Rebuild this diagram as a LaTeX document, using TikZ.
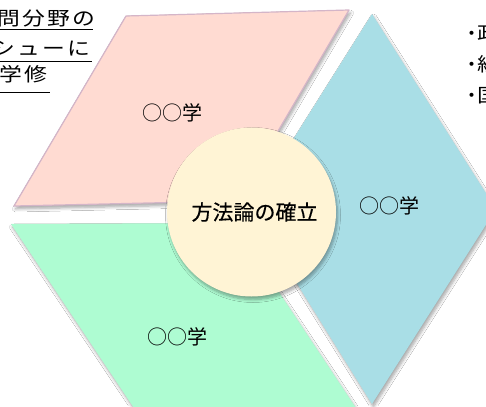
\documentclass[tikz,border=0pt]{standalone}
\usepackage{fontspec}
\newfontfamily\jp{Noto Sans CJK JP}
\newfontfamily\jpb[FakeBold=0.4]{Noto Sans CJK JP}
\usetikzlibrary{shadows.blur}
\definecolor{pinkf}{RGB}{255,219,210}
\definecolor{pinkd}{RGB}{212,181,200}
\definecolor{bluef}{RGB}{169,222,230}
\definecolor{greenf}{RGB}{174,252,210}
\definecolor{creamf}{RGB}{255,244,213}
\begin{document}
\begin{tikzpicture}[x=1pt,y=-1pt,
  shad/.style={blur shadow={shadow xshift=1.5pt,shadow yshift=-3pt,shadow blur steps=6,shadow blur radius=3pt,shadow opacity=35}},
  lbl/.style={font=\jp\fontsize{20}{20}\selectfont, inner sep=0pt, text=black},
  side/.style={font=\jp\fontsize{19}{19}\selectfont, inner sep=0pt, text=black},
  uline/.style={line width=1.3pt, black}]
\useasboundingbox (0,0) rectangle (486,406);
\fill[white] (0,0) rectangle (486,406);
\clip (0,0) rectangle (486,406);
% pink
\filldraw[fill=pinkf, draw=pinkd, line width=1.2pt, line join=round, shad] (14,206) -- (126,16) -- (349,10) -- (237,201) -- cycle;
% blue
\fill[bluef, shad] (372,14) -- (496,209) -- (372,404) -- (250,208) -- cycle;
% green
\fill[greenf, shad] (11,224) -- (233,223) -- (364,420) -- (142,420) -- cycle;
% circle
\node[circle, fill=creamf, minimum size=169pt, inner sep=0pt, shad] (c) at (251.5,212) {};
\node[lbl, font=\jpb\fontsize{21}{21}\selectfont] (ct) at ([xshift=3pt]c.center) {方法論の確立};
% labels
\node[lbl] (lp) at (172,113) {○○学};
\node[lbl] (lb) at (389,206) {○○学};
\node[lbl] (lg) at (177,337) {○○学};
% top-left text
\node[side, anchor=base west] (t1) at (-3,25.5) {\scalebox{1.2}[1]{問\kern2pt 分\kern2pt 野\kern2pt の}};
\node[side, anchor=base west] (t2) at (-8,56) {\scalebox{1.2}[1]{シ\kern2pt ュ\kern2pt ー\kern2pt に}};
\node[side, anchor=base west] (t3) at (-1,81.5) {\scalebox{1.2}[1]{学\kern2pt 修}};
\draw[uline] (0,29.5) -- (93,29.5);
\draw[uline] (0,61.7) -- (92,61.7);
\draw[uline] (0,92.5) -- (50,92.5);
% right text
\node[side, anchor=base] (b1) at (472,41) {\makebox[6pt][c]{・}};
\node[side, anchor=base] (b2) at (472,72) {\makebox[6pt][c]{・}};
\node[side, anchor=base] (b3) at (472,103) {\makebox[6pt][c]{・}};
\node[side, anchor=base west] (r1) at (477,41) {\scalebox{1.2}[1]{政}};
\node[side, anchor=base west] (r2) at (477,72) {\scalebox{1.2}[1]{経}};
\node[side, anchor=base west] (r3) at (477,103) {\scalebox{1.2}[1]{国}};
\end{tikzpicture}
\end{document}
